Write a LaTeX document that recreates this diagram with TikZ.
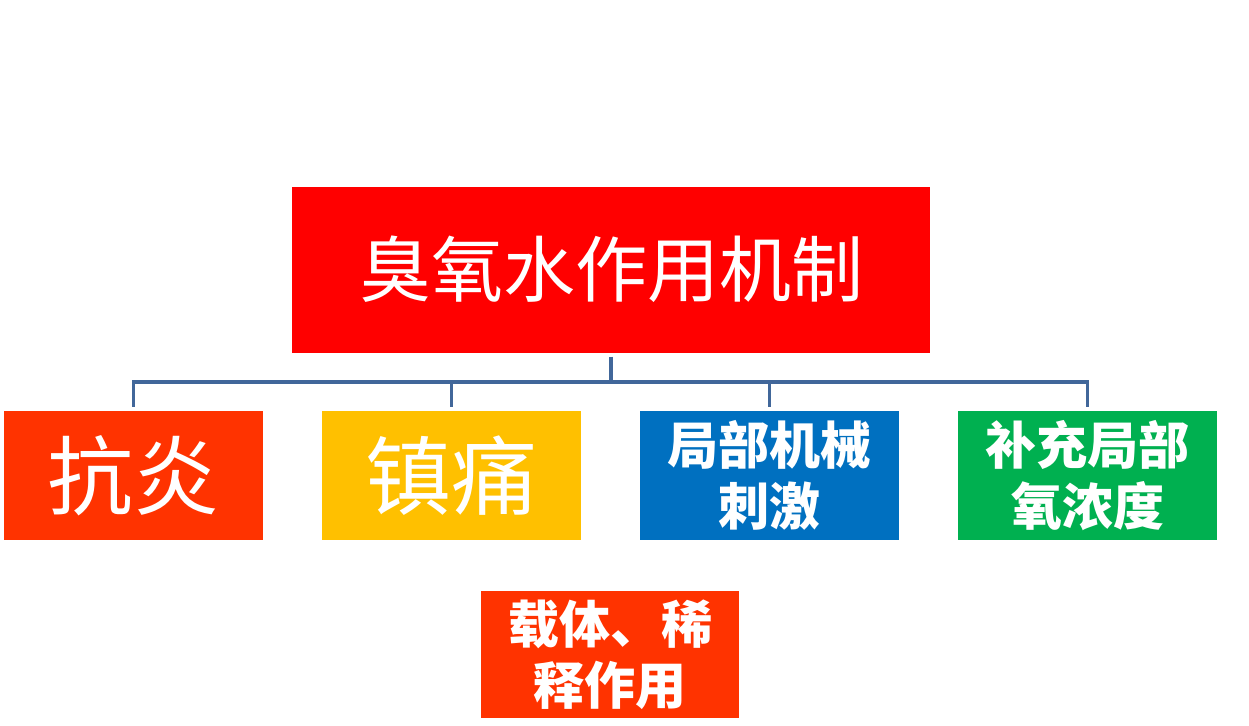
\documentclass[tikz,border=0pt]{standalone}
\usepackage{fontspec}
\newfontfamily\cjk{Noto Sans CJK SC}
\definecolor{cred}{HTML}{FF0000}
\definecolor{corange}{HTML}{FF3300}
\definecolor{cgold}{HTML}{FFC000}
\definecolor{cblue}{HTML}{0070C0}
\definecolor{cgreen}{HTML}{00B050}
\definecolor{cline}{HTML}{41679A}
\tikzset{
  box/.style={draw=none, inner sep=0pt, align=center, text=white},
  big/.style={font=\cjk\fontsize{86}{90}\selectfont},
  small/.style={font=\cjk\bfseries\fontsize{51}{61}\selectfont},
  conn/.style={draw=cline, line width=3.5pt},
}
\begin{document}
\begin{tikzpicture}[x=1pt,y=-1pt]
\useasboundingbox (0,0) rectangle (1249,725);
\node[box, fill=cred, minimum width=638pt, minimum height=166pt, font=\cjk\fontsize{72}{80}\selectfont] (main) at (611,269.5) {臭氧水作用机制};
\node[box, big, fill=corange, minimum width=259pt, minimum height=129pt] (a) at (133.5,475.5) {抗炎};
\node[box, big, fill=cgold, minimum width=259pt, minimum height=129pt] (b) at (451.5,475.5) {镇痛};
\node[box, small, fill=cblue, minimum width=259pt, minimum height=129pt] (c) at (769.5,475.5) {局部机械\\刺激};
\node[box, small, fill=cgreen, minimum width=259pt, minimum height=129pt] (d) at (1087.5,475.5) {补充局部\\氧浓度};
\node[box, small, fill=corange, minimum width=258pt, minimum height=127pt] (e) at (610,654.5) {载体、稀\\释作用};
\coordinate (bus) at (611,382);
\draw[conn, shorten <=4pt] (main.south) -- (main.south |- bus);
\draw[conn, shorten <=4pt, shorten >=4pt] (a.north) |- (bus) -| (d.north);
\draw[conn, shorten >=4pt] (b.north |- bus) -- (b.north);
\draw[conn, shorten >=4pt] (c.north |- bus) -- (c.north);
\end{tikzpicture}
\end{document}
